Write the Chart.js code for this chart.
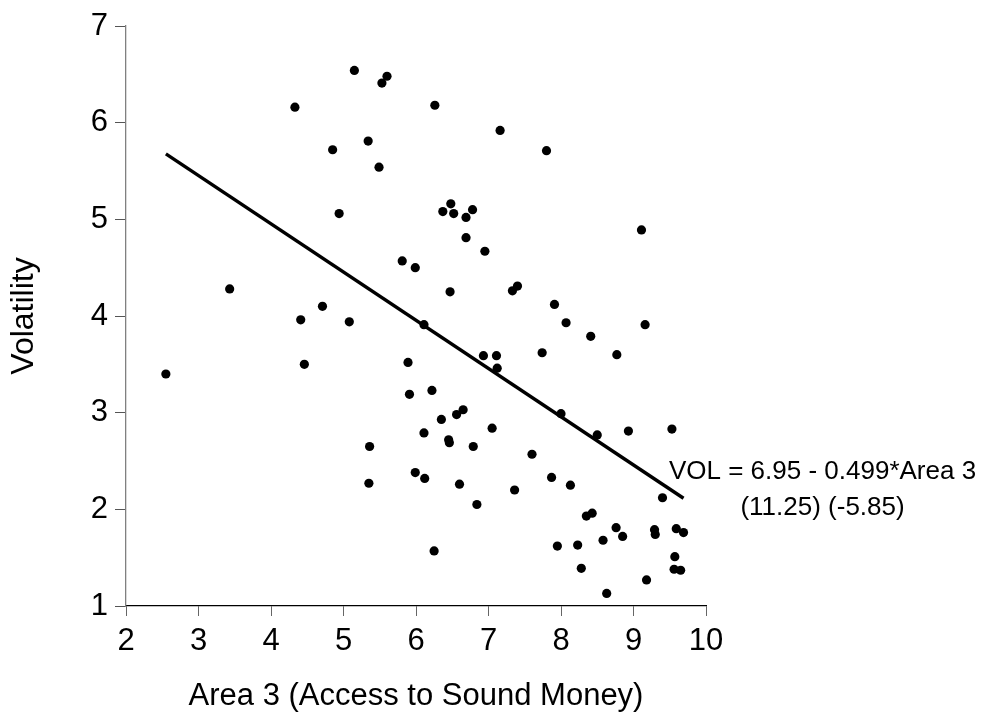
<!DOCTYPE html>
<html>
<head>
<meta charset="utf-8">
<script src="https://cdn.jsdelivr.net/npm/chart.js@4/dist/chart.umd.min.js"></script>
<style>
  body { margin: 0; background: #fff; }
  #wrap { width: 985px; height: 719px; }
</style>
</head>
<body>
<div id="wrap"><canvas id="myChart"></canvas></div>
<script>
// Area 3 score per country
var areaX = [5.15, 5.53, 5.60, 4.33, 4.85, 5.34, 5.49, 4.94, 5.81, 5.99,
  3.43, 4.41, 4.71, 5.08, 6.26, 7.16, 7.80, 6.48, 6.37, 6.52,
  6.78, 6.69, 6.69, 6.95, 9.11, 6.47, 7.33, 7.40, 7.91, 8.07,
  9.16, 6.11, 8.41, 7.74, 8.77, 5.89, 6.93, 7.11, 7.12, 5.91,
  6.22, 8.00, 6.65, 6.56, 6.35, 6.11, 7.05, 8.50, 8.93, 9.53,
  6.45, 6.46, 6.79, 7.60, 5.99, 6.12, 6.60, 7.36, 7.87, 8.13,
  6.84, 9.40, 8.35, 8.43, 8.76, 8.85, 9.29, 9.30, 9.59, 9.69,
  6.25, 7.95, 8.23, 8.58, 9.57, 8.28, 9.56, 9.65, 9.18, 8.63,
  2.55, 4.46, 5.36, 5.35];
// volatility for the same countries
var volY = [6.54, 6.41, 6.48, 6.16, 5.72, 5.81, 5.54, 5.06, 4.57, 4.50,
  4.28, 3.96, 4.10, 3.94, 6.18, 5.92, 5.71, 5.16, 5.08, 5.06,
  5.10, 5.02, 4.81, 4.67, 4.89, 4.25, 4.26, 4.31, 4.12, 3.93,
  3.91, 3.91, 3.79, 3.62, 3.60, 3.52, 3.59, 3.59, 3.46, 3.19,
  3.23, 2.99, 3.03, 2.98, 2.93, 2.79, 2.84, 2.77, 2.81, 2.83,
  2.72, 2.69, 2.65, 2.57, 2.38, 2.32, 2.26, 2.20, 2.33, 2.25,
  2.05, 2.12, 1.93, 1.96, 1.81, 1.72, 1.79, 1.74, 1.80, 1.76,
  1.57, 1.62, 1.63, 1.68, 1.51, 1.39, 1.38, 1.37, 1.27, 1.13,
  3.40, 3.50, 2.65, 2.27];

var xTicks = [2, 3, 4, 5, 6, 7, 8, 9, 10];
var yTicks = [1, 2, 3, 4, 5, 6, 7];

// fitted line VOL = a + b*Area3
var fitA = 6.95;
var fitB = -0.499;
var fitRange = [2.55, 9.69];
var eqLines = ['VOL = 6.95 - 0.499*Area 3', '(11.25) (-5.85)'];

var FONT = '"Liberation Sans", Arial, sans-serif';

var pts = [];
for (let i = 0; i < areaX.length; i++) {
  pts.push({x: areaX[i], y: volY[i]});
}
var fit = [];
for (let i = 0; i < fitRange.length; i++) {
  fit.push({x: fitRange[i], y: fitA + fitB * fitRange[i]});
}

var eqLabel = {
  id: 'eqLabel',
  afterDatasetsDraw: function(chart) {
    var ctx = chart.ctx;
    var xs = chart.scales.x, ys = chart.scales.y;
    var last = fit[fit.length - 1];
    var cx = xs.getPixelForValue(last.x) + 139;
    var cy = ys.getPixelForValue(last.y) - 26;
    ctx.save();
    ctx.fillStyle = '#000';
    ctx.font = '26px ' + FONT;
    ctx.textAlign = 'center';
    ctx.textBaseline = 'middle';
    for (let i = 0; i < eqLines.length; i++) {
      ctx.fillText(eqLines[i], cx, cy + i * 35.5);
    }
    ctx.restore();
  }
};

const config = {
  type: 'scatter',
  data: {
    datasets: [{
      label: 'countries',
      data: pts,
      backgroundColor: '#000',
      borderWidth: 0,
      pointRadius: 4.6,
      pointHoverRadius: 4.6
    }, {
      type: 'line',
      label: 'fit',
      data: fit,
      borderColor: '#000',
      borderWidth: 3.4,
      pointRadius: 0,
      fill: false
    }]
  },
  options: {
    responsive: true,
    maintainAspectRatio: false,
    animation: false,
    events: [],
    layout: { padding: { left: 0, right: 279, top: 26, bottom: 0 } },
    plugins: { legend: { display: false }, tooltip: { enabled: false } },
    scales: {
      x: {
        type: 'linear',
        min: xTicks[0],
        max: xTicks[xTicks.length - 1],
        afterBuildTicks: function(s) { s.ticks = xTicks.map(function(v) { return {value: v}; }); },
        afterFit: function(s) { s.height = 113; },
        grid: { drawOnChartArea: false, drawTicks: true, tickLength: 10, color: '#666' },
        border: { color: '#000', width: 1.3 },
        ticks: { color: '#000', padding: 7, font: { family: FONT, size: 31 } },
        title: {
          display: true,
          text: 'Area 3 (Access to Sound Money)',
          color: '#000',
          font: { family: FONT, size: 31 },
          padding: { top: 0, bottom: 4 }
        }
      },
      y: {
        type: 'linear',
        min: yTicks[0],
        max: yTicks[yTicks.length - 1],
        afterBuildTicks: function(s) { s.ticks = yTicks.map(function(v) { return {value: v}; }); },
        afterFit: function(s) { s.width = 126; },
        grid: { drawOnChartArea: false, drawTicks: true, tickLength: 11, color: '#555' },
        border: { color: '#808080', width: 1.3 },
        ticks: { color: '#000', padding: 7, font: { family: FONT, size: 31 } },
        title: {
          display: true,
          text: 'Volatility',
          color: '#000',
          font: { family: FONT, size: 32 },
          padding: { top: 5, bottom: 0 }
        }
      }
    }
  },
  plugins: [eqLabel]
};

const myChart = new Chart(document.getElementById('myChart'), config);
</script>
</body>
</html>
